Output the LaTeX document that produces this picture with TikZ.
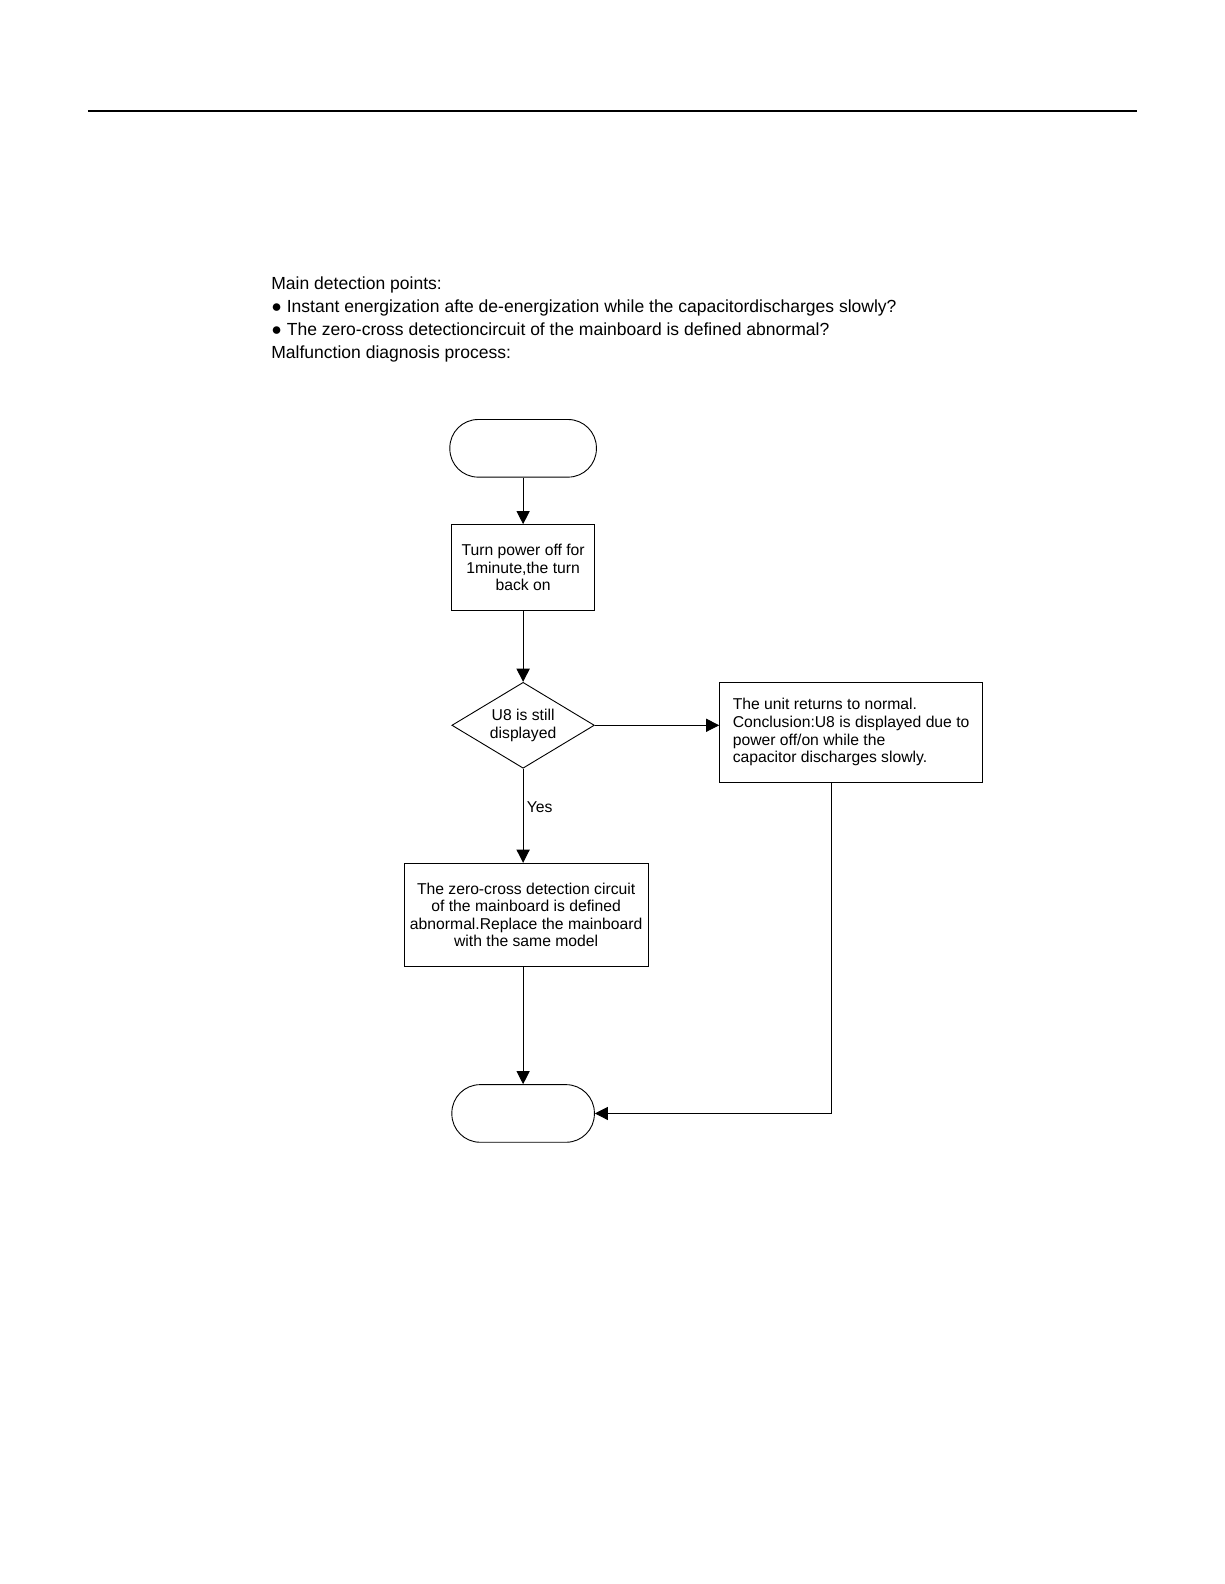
\documentclass[tikz,border=0pt]{standalone}
\usepackage{fontspec}
\setmainfont{Liberation Sans}
\usetikzlibrary{shapes.geometric,arrows.meta}
\begin{document}
\begin{tikzpicture}[x=1bp,y=-1bp,line width=0.9bp,>={Triangle[length=13bp,width=13bp]}]

% Style for nodes
\tikzstyle{terminal}=[draw,minimum width=145bp,minimum height=57bp,rounded corners=28bp]
\tikzstyle{process}=[draw,align=center,font=\fontsize{15.6}{17.5}\selectfont,inner sep=0pt]
\tikzstyle{decision}=[draw,diamond,aspect=1.66,inner sep=0pt,minimum width=141bp,minimum height=85bp,align=center,font=\fontsize{15.6}{17.5}\selectfont]
\tikzstyle{header}=[anchor=base west,inner sep=0pt,font=\fontsize{17.4}{23}\selectfont]
\useasboundingbox (0,0) rectangle (1211,1567);
% Page rule and notes
\draw[line width=1.8bp] (87,110) -- (1125,110);
\node(h1)[header] at (268,286){Main detection points:};
\node(h2)[header] at (268,309){● Instant energization afte de-energization while the capacitordischarges slowly?};
\node(h3)[header] at (268,332){● The zero-cross detectioncircuit of the mainboard is defined abnormal?};
\node(h4)[header] at (268,355){Malfunction diagnosis process:};
% The flow
\node(start)[terminal] at (517.5,443.5){};
\node(off)[process,minimum width=141bp,minimum height=85bp] at (517.5,561.5){Turn power off for\\1minute,the turn\\back on};
\node(check)[decision] at (517.5,717.5){U8 is still\\displayed};
\node(normal)[process,align=left,inner xsep=13bp,minimum width=260bp,minimum height=99bp] at (842,724.5){The unit returns to normal.\\Conclusion:U8 is displayed due to\\power off/on while the\\capacitor discharges slowly.};
\node(board)[process,minimum width=241bp,minimum height=102bp] at (520.5,905){The zero-cross detection circuit\\of the mainboard is defined\\abnormal.Replace the mainboard\\with the same model};
\node(stop)[terminal,minimum width=141bp] at (517.5,1101.5){};
\coordinate(down) at (823,774);
% Connectors
\draw[->] (start) -- (off);
\draw[->] (off) -- (check);
\draw[->] (check.east) -- (check.east -| normal.west);
\draw[->] (check.south) -- (check.south |- board.north) node[pos=0.41,right,font=\fontsize{15.6}{17.5}\selectfont]{Yes};
\draw[->] (board.south -| stop.north) -- (stop.north);
\draw[->] (down) |- (stop.east);
\end{tikzpicture}
\end{document}
